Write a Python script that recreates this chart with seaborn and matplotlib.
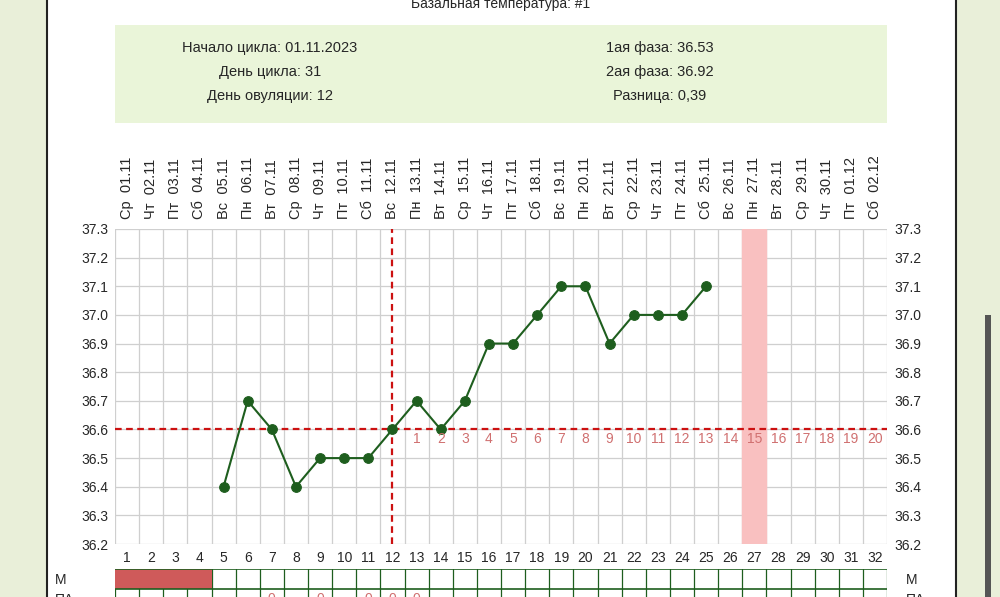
import numpy as np
import pandas as pd
import seaborn as sns
import matplotlib.pyplot as plt
from matplotlib.patches import Rectangle

# data
days = list(range(1, 33))
dates = ['01.11', '02.11', '03.11', '04.11', '05.11', '06.11', '07.11', '08.11', '09.11', '10.11',
         '11.11', '12.11', '13.11', '14.11', '15.11', '16.11', '17.11', '18.11', '19.11', '20.11',
         '21.11', '22.11', '23.11', '24.11', '25.11', '26.11', '27.11', '28.11', '29.11', '30.11',
         '01.12', '02.12']
weekdays = ['Ср', 'Чт', 'Пт', 'Сб', 'Вс', 'Пн', 'Вт'] * 5
temp_days = [5, 6, 7, 8, 9, 10, 11, 12, 13, 14, 15, 16, 17, 18, 19, 20, 21, 22, 23, 24, 25]
temps = [36.4, 36.7, 36.6, 36.4, 36.5, 36.5, 36.5, 36.6, 36.7, 36.6, 36.7, 36.9, 36.9, 37.0,
         37.1, 37.1, 36.9, 37.0, 37.0, 37.0, 37.1]
coverline = 36.6
ovulation_day = 12
expected_day = 27
menses_days = [1, 2, 3, 4]
pa_days = [7, 9, 11, 12, 13]
info_left = ['Начало цикла: 01.11.2023', 'День цикла: 31', 'День овуляции: 12']
info_right = ['1ая фаза: 36.53', '2ая фаза: 36.92', 'Разница: 0,39']

sns.set_style('white')
plt.rcParams['font.family'] = ['Liberation Sans', 'DejaVu Sans']

W, H = 1000, 597
fig = plt.figure(figsize=(10, 5.97), dpi=100)
fig.patch.set_facecolor('#e9efd9')

def px(x0, y0, x1, y1):
    return [x0 / W, 1 - y1 / H, (x1 - x0) / W, (y1 - y0) / H]

# white page with dark border
bg = fig.add_axes([0, 0, 1, 1], zorder=-5)
bg.set_xlim(0, W)
bg.set_ylim(H, 0)
bg.axis('off')
bg.add_patch(Rectangle((47, -5), 909, H + 10, facecolor='white', edgecolor='#222222', lw=1.5))
bg.add_patch(Rectangle((115, 25), 772, 98, facecolor='#eaf5d9', edgecolor='none'))
bg.add_patch(Rectangle((985, 315), 6, 290, facecolor='#555555', edgecolor='none'))
bg.text(501, 4, 'Базальная температура: #1', ha='center', va='center', fontsize=10)
for i, (a, b) in enumerate(zip(info_left, info_right)):
    bg.text(270, 48 + i * 24, a, ha='center', va='center', fontsize=10.5)
    bg.text(660, 48 + i * 24, b, ha='center', va='center', fontsize=10.5)

# main chart
ax = fig.add_axes(px(115, 229, 887, 544))
ax.set_xlim(0.5, 32.5)
ax.set_ylim(36.2, 37.3)
for x in np.arange(0.5, 33, 1):
    ax.axvline(x, color='#cfcfcf', lw=0.9, zorder=0)
for y in np.arange(36.2, 37.31, 0.1):
    ax.axhline(y, color='#cfcfcf', lw=0.9, zorder=0)
ax.axvspan(expected_day - 0.5, expected_day + 0.5, color='#f9c0c0', zorder=0.5)
ax.axhline(coverline, color='#cc1111', lw=1.6, ls=(0, (3, 2)), zorder=1)
ax.axvline(ovulation_day, color='#cc1111', lw=1.6, ls=(0, (3, 2)), zorder=1)

df = pd.DataFrame({'day': temp_days, 'temp': temps})
sns.lineplot(data=df, x='day', y='temp', ax=ax, color='#1e5e1e', lw=1.5,
             marker='o', markersize=7, markeredgecolor='#1e5e1e', zorder=3)

for k, d in enumerate(range(ovulation_day + 1, 33)):
    ax.text(d, coverline - 0.035, str(k + 1), ha='center', va='center', fontsize=10, color='#d07070')

ax.set_xticks(days)
ax.set_xticklabels([str(d) for d in days], fontsize=10)
ticks = np.round(np.arange(36.2, 37.31, 0.1), 1)
ax.set_yticks(ticks)
ax.set_yticklabels([f'{t:.1f}' for t in ticks], fontsize=10)
ax.tick_params(length=0, pad=5, labelright=True)
ax.set_xlabel('')
ax.set_ylabel('')
for s in ax.spines.values():
    s.set_visible(False)

top = ax.secondary_xaxis('top')
top.set_xticks(days)
top.set_xticklabels([f'{w}  {d}' for w, d in zip(weekdays, dates)], rotation=90, fontsize=10.5)
top.tick_params(length=0, pad=7)
top.spines['top'].set_visible(False)

# bottom table
tb = fig.add_axes(px(115, 569, 887, 609))
tb.set_xlim(0.5, 32.5)
tb.set_ylim(2, 0)
tb.axis('off')
for x in np.arange(0.5, 33, 1):
    tb.plot([x, x], [0, 2], color='#1e5e1e', lw=0.9, zorder=1)
tb.add_patch(Rectangle((menses_days[0] - 0.5, 0), len(menses_days), 1,
                       facecolor='#cf5a5a', edgecolor='none', zorder=2))
for y in [0, 1, 2]:
    tb.plot([0.5, 32.5], [y, y], color='#1e5e1e', lw=1.2, zorder=3)
for d in pa_days:
    tb.text(d, 1.5, '0', ha='center', va='center', fontsize=10, color='#d07070')
for side in [-2.0, 33.3]:
    tb.text(side, 0.55, 'M', ha='left', va='center', fontsize=10, clip_on=False)
    tb.text(side, 1.55, 'ПА', ha='left', va='center', fontsize=10, clip_on=False)

fig.savefig('out.png', dpi=100)
